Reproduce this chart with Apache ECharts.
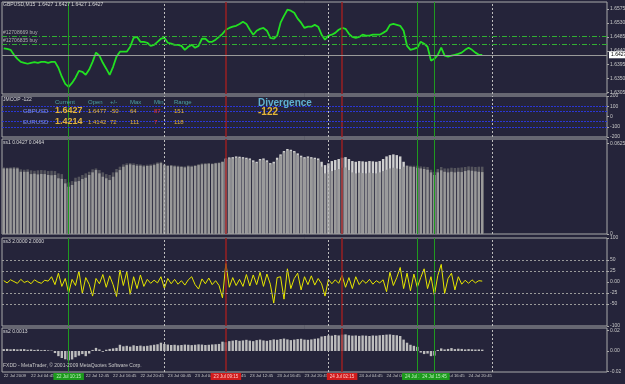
<!DOCTYPE html>
<html>
<head>
<meta charset="utf-8">
<script src="https://cdn.jsdelivr.net/npm/echarts@6/dist/echarts.min.js"></script>
<style>
  html, body { margin: 0; padding: 0; background: #25243a; }
  #chart { width: 625px; height: 384px; }
</style>
</head>
<body>
<div id="chart"></div>
<script>
// GBPUSD M15, one slot = 30 minutes, slot 0 = 22 Jul 00:45
var slotCount = 177;
var tickLabels = ['22 Jul 2009', '22 Jul 04:45', '22 Jul 08:45', '22 Jul 12:45', '22 Jul 16:45', '22 Jul 20:45',
  '23 Jul 00:45', '23 Jul 04:45', '23 Jul 08:45', '23 Jul 12:45', '23 Jul 16:45', '23 Jul 20:45',
  '24 Jul 00:45', '24 Jul 04:45', '24 Jul 08:45', '24 Jul 12:45', '24 Jul 16:45', '24 Jul 20:45'];

var price = [
  1.6448, 1.6446, 1.6443, 1.6427, 1.6414, 1.6404, 1.6401, 1.6398, 1.6401, 1.6403,
  1.6401, 1.6404, 1.6404, 1.6401, 1.6404, 1.6404, 1.6385, 1.6356, 1.6333, 1.6323,
  1.6336, 1.6353, 1.6375, 1.6372, 1.6362, 1.6379, 1.6404, 1.6434, 1.6424, 1.6401,
  1.6382, 1.6362, 1.6388, 1.6421, 1.6437, 1.6437, 1.6437, 1.6453, 1.6482, 1.6485,
  1.6469, 1.6469, 1.6466, 1.6456, 1.6459, 1.6469, 1.6479, 1.6482, 1.6466, 1.6463,
  1.6459, 1.6459, 1.6456, 1.6443, 1.6453, 1.6459, 1.6450, 1.6456, 1.6479, 1.6479,
  1.6469, 1.6469, 1.6476, 1.6485, 1.6495, 1.6508, 1.6514, 1.6518, 1.6521, 1.6527,
  1.6534, 1.6527, 1.6508, 1.6492, 1.6505, 1.6511, 1.6514, 1.6505, 1.6482, 1.6479,
  1.6489, 1.6531, 1.6553, 1.6573, 1.6570, 1.6563, 1.6544, 1.6531, 1.6514, 1.6518,
  1.6518, 1.6524, 1.6518, 1.6492, 1.6476, 1.6489, 1.6492, 1.6498, 1.6508, 1.6514,
  1.6511, 1.6495, 1.6485, 1.6482, 1.6485, 1.6492, 1.6489, 1.6489, 1.6492, 1.6492,
  1.6492, 1.6498, 1.6505, 1.6524, 1.6527, 1.6524, 1.6521, 1.6505, 1.6456, 1.6443,
  1.6446, 1.6450, 1.6469, 1.6463, 1.6453, 1.6408, 1.6414, 1.6427, 1.6450, 1.6424,
  1.6421, 1.6424, 1.6427, 1.6430, 1.6434, 1.6443, 1.6450, 1.6443, 1.6434, 1.6427, 1.6427
];
var orderLevels = [1.6488, 1.6461];
var orderNames = ['#12708669 buy', '#12706835 buy'];
var bid = 1.6427;

var ss1a = [
  .0452, .0452, .0452, .0452, .0452, .0429, .0429, .0429, .0413, .0416,
  .0411, .0414, .0413, .0407, .0405, .0407, .0384, .0380, .0349, .0326,
  .0338, .0361, .0365, .0379, .0388, .0407, .0425, .0441, .0418, .0395,
  .0384, .0372, .0395, .0425, .0441, .0464, .0475, .0480, .0475, .0471,
  .0471, .0466, .0469, .0471, .0475, .0485, .0489, .0475, .0469, .0471,
  .0466, .0464, .0462, .0459, .0466, .0464, .0469, .0475, .0480, .0482,
  .0485, .0482, .0487, .0489, .0498, .0521, .0528, .0530, .0535, .0533,
  .0530, .0526, .0521, .0508, .0498, .0517, .0521, .0508, .0489, .0498,
  .0526, .0549, .0572, .0586, .0581, .0572, .0556, .0540, .0530, .0535,
  .0530, .0526, .0521, .0498, .0475, .0487, .0503, .0510, .0517, .0526,
  .0530, .0517, .0503, .0498, .0503, .0501, .0498, .0503, .0501, .0498,
  .0503, .0517, .0535, .0544, .0549, .0544, .0535, .0498, .0471, .0464,
  .0462, .0457, .0452, .0448, .0443, .0425, .0407, .0425, .0439, .0429,
  .0425, .0429, .0425, .0429, .0427, .0434, .0439, .0436, .0432, .0429, .0427
];
var ss1b = [
  .0459, .0457, .0459, .0462, .0459, .0446, .0443, .0446, .0439, .0436,
  .0439, .0441, .0439, .0434, .0436, .0434, .0418, .0413, .0379, .0356,
  .0365, .0388, .0395, .0407, .0418, .0429, .0446, .0452, .0441, .0425,
  .0413, .0407, .0425, .0448, .0464, .0480, .0487, .0489, .0487, .0482,
  .0480, .0475, .0478, .0480, .0485, .0494, .0498, .0485, .0475, .0475,
  .0473, .0471, .0469, .0466, .0473, .0471, .0475, .0482, .0487, .0489,
  .0489, .0487, .0491, .0494, .0498, .0517, .0521, .0521, .0526, .0524,
  .0521, .0517, .0512, .0498, .0489, .0508, .0512, .0498, .0480, .0487,
  .0512, .0540, .0563, .0576, .0572, .0563, .0544, .0530, .0521, .0526,
  .0521, .0517, .0510, .0464, .0418, .0425, .0434, .0441, .0448, .0457,
  .0459, .0441, .0425, .0418, .0423, .0420, .0418, .0423, .0420, .0418,
  .0425, .0434, .0443, .0452, .0457, .0452, .0448, .0464, .0471, .0471,
  .0471, .0471, .0466, .0464, .0462, .0443, .0429, .0448, .0462, .0452,
  .0452, .0457, .0455, .0457, .0459, .0462, .0466, .0464, .0462, .0464, .0464
];

var ss3 = [
  3, -2, 5, 1, -3, 6, -1, 2, -4, 5, 0, -3, 4, 2,
  12, -6, 20, -10, 8, -25, 6, -8, 25, -26, 10, -5, -32, 8, -4,
  17, -12, 14, -6, -33, 27, -8, 23, -28, 12, -15, 16, -10, 6,
  -3, 4, -2, 12, -14, 8, -4, 6, -5, 3, -7, 5, 12, -6, -16,
  7, -4, 9, -6, 3, -8,
  -36, 42, -12, 10, -8, 6, -10, 17, -9, 16, -6, 22, -10, 18, -5, -48, 10, 12, -39, 30,
  -15, 8, 20, -18, 12, -6, 14, -7, 8, -4, -32, 6, -4, 5, -3, 15, -12, 10, -15, 12, -6,
  4, -3, 6, -5, 3, -2, 5,
  -22, 22, -8, 10, 33, -15, 20, -20, 18, -12, 10, 30, -15, 12, -30, 15, 40, -26, 8, 20, -18, 12, -5,
  4, -3, 5, -2, 3, 2
];
var ss3Levels = [50, 25, -25, -50];

var ss2 = [
  0.0018, 0.0020, 0.0016, 0.0019, 0.0015, 0.0017, 0.0018, 0.0012, 0.0015, 0.0010, 0.0013, 0.0008, 0.0010, 0.0006, 0.0004,
  -0.0020, -0.0050, -0.0068, -0.0080, -0.0090, -0.0082, -0.0060, -0.0045, -0.0030, -0.0050, -0.0025,
  0.0010, 0.0030, 0.0015, -0.0008, 0.0012, 0.0020, 0.0025, 0.0030,
  0.0060, 0.0045, 0.0050, 0.0042, 0.0055, 0.0048, 0.0052, 0.0046, 0.0050, 0.0055, 0.0060, 0.0065,
  0.0080, 0.0068, 0.0062, 0.0058, 0.0060, 0.0055, 0.0058, 0.0062, 0.0060, 0.0057, 0.0060, 0.0064, 0.0062, 0.0058, 0.0060, 0.0063, 0.0065, 0.0068,
  0.0090, 0.0085, 0.0095, 0.0100, 0.0105, 0.0098, 0.0102, 0.0108, 0.0100, 0.0095,
  0.0105, 0.0110, 0.0102, 0.0098, 0.0105, 0.0112, 0.0108, 0.0115, 0.0120, 0.0112,
  0.0105, 0.0110, 0.0115, 0.0118, 0.0110, 0.0108, 0.0112, 0.0118, 0.0122,
  0.0140, 0.0145, 0.0150, 0.0148, 0.0155, 0.0150, 0.0158, 0.0160, 0.0152, 0.0148,
  0.0150, 0.0146, 0.0150, 0.0148, 0.0145, 0.0150, 0.0148, 0.0152, 0.0155, 0.0158,
  0.0160, 0.0155, 0.0152, 0.0145,
  0.0110, 0.0080, 0.0060, 0.0050, 0.0040,
  -0.0015, -0.0030, -0.0025, -0.0050, -0.0045,
  0.0010, 0.0025, 0.0015, 0.0020, 0.0028, 0.0018, 0.0022, 0.0020, 0.0015, 0.0018, 0.0016, 0.0014, 0.0015, 0.0013
];

// vertical objects (slot index)
var greenLines = [19, 121, 126];
var greenNames = ['22 Jul 10:15', '24 Jul 13:15', '24 Jul 15:45'];
var redLines = [65, 99];
var redNames = ['23 Jul 09:15', '24 Jul 02:15'];
var dayLines = [47, 95, 143];

var jmLevels = [100, 50, -50, -100];
var tableHead = ['Current', 'Open', '+/-', 'Max', 'Min', 'Range'];
var tableSymbols = ['GBPUSD', 'EURUSD'];
var tableRows = [
  ['1.6427', '1.6477', '-50', '64', '87', '151'],
  ['1.4214', '1.4142', '72', '111', '7', '118']
];
var divergence = '-122';

var FONT = '"Liberation Sans", "DejaVu Sans", sans-serif';
var AXIS_TXT = '#c8c8c8';

var slots = [];
for (var i = 0; i < slotCount; i++) slots.push(i);

var panels = [
  { top: 2, height: 92 },
  { top: 96, height: 41 },
  { top: 139, height: 95 },
  { top: 238, height: 88 },
  { top: 328, height: 44 }
];

function vertLines(withBoxes) {
  var out = [];
  dayLines.forEach(function (s) {
    out.push({ xAxis: s, lineStyle: { color: '#bdbdbd', width: 1, type: [2, 2] } });
  });
  greenLines.forEach(function (s, k) {
    var d = { xAxis: s, lineStyle: { color: '#1f9a1f', width: 1, type: 'solid' } };
    if (withBoxes) d.label = { show: true, position: 'start', distance: 1, formatter: greenNames[k],
      backgroundColor: '#1c9a1c', color: '#bff0bf', fontSize: 4.5, padding: [1, 3] };
    out.push(d);
  });
  redLines.forEach(function (s, k) {
    var d = { xAxis: s, lineStyle: { color: '#9a1f22', width: 1.5, type: 'solid' } };
    if (withBoxes) d.label = { show: true, position: 'start', distance: 1, formatter: redNames[k],
      backgroundColor: '#d11c1c', color: '#ffc8c8', fontSize: 4.5, padding: [1, 3] };
    out.push(d);
  });
  return out;
}

function yAx(k, min, max, vals, fmt) {
  return {
    type: 'value', gridIndex: k, position: 'right', min: min, max: max,
    axisLine: { show: false }, splitLine: { show: false },
    axisTick: { show: true, length: 2, customValues: vals, lineStyle: { color: '#a9a9a9' } },
    axisLabel: { show: true, customValues: vals, fontSize: 5, color: AXIS_TXT, margin: 3, formatter: fmt }
  };
}

var chart = echarts.init(document.getElementById('chart'), null, { renderer: 'canvas' });

var graphics = [];
function txt(x, y, s, fill, size, bold) {
  graphics.push({ type: 'text', x: x, y: y, z: 100, silent: true,
    style: { text: s, fill: fill, fontSize: size, fontWeight: bold ? 'bold' : 'normal', fontFamily: FONT, verticalAlign: 'middle' } });
}
txt(3, 5, 'GBPUSD,M15  1.6427 1.6427 1.6427 1.6427', '#d8d8d8', 5);
txt(3, 100, 'JMCOP -122', '#d8d8d8', 5);
txt(3, 143, 'ss1 0.0427 0.0464', '#d8d8d8', 5);
txt(3, 242, 'ss3 2.0000 2.0000', '#d8d8d8', 5);
txt(3, 332, 'ss2 0.0013', '#d8d8d8', 5);
txt(3, 366, 'FXDD - MetaTrader, \u00a9 2001-2009 MetaQuotes Software Corp.', '#c8c8c8', 5);

var colX = [55, 88, 110, 130, 154, 174];
tableHead.forEach(function (h, c) { txt(colX[c], 102, h, '#4aa3a3', 6); });
tableSymbols.forEach(function (sym, r) {
  var y = 111 + r * 11;
  txt(23, y, sym, '#7d8ee8', 6);
  tableRows[r].forEach(function (v, c) {
    var col = c === 4 ? '#e8322a' : '#e3b33a';
    txt(colX[c], y, v, col, c === 0 ? 9 : 6, c === 0);
  });
});
txt(258, 103, 'Divergence', '#5fb0cf', 10, true);
txt(258, 112, divergence, '#e3b33a', 10, true);

var ss1Top = ss1a.map(function (a, i) { return Math.max(a, ss1b[i]); });
var ss1Low = ss1a.map(function (a, i) { return Math.min(a, ss1b[i]); });

var option = {
  backgroundColor: '#25243a',
  animation: false,
  textStyle: { fontFamily: FONT },
  grid: panels.map(function (p) {
    return { left: 2, right: 18, top: p.top, height: p.height, show: true,
      borderColor: '#a9a9a9', borderWidth: 1, backgroundColor: 'transparent', outerBoundsMode: 'none' };
  }),
  xAxis: panels.map(function (p, k) {
    return {
      type: 'category', gridIndex: k, data: slots, boundaryGap: true,
      axisLine: { show: false }, axisTick: { show: false }, splitLine: { show: false },
      axisLabel: k === 4 ? {
        show: true, fontSize: 4.3, color: AXIS_TXT, margin: 2, align: 'left',
        interval: function (idx) { return idx % 8 === 0 && idx / 8 < tickLabels.length; },
        formatter: function (v, idx) { return tickLabels[idx / 8] || ''; }
      } : { show: false }
    };
  }),
  yAxis: [
    yAx(0, 1.6300, 1.6598, [1.6305, 1.6350, 1.6395, 1.6440, 1.6485, 1.6530, 1.6575], function (v) { return v.toFixed(4); }),
    yAx(1, -200, 200, [-200, -100, 0, 100, 200], function (v) { return String(v); }),
    yAx(2, 0, 0.0655, [0, 0.0625], function (v) { return v === 0 ? '0' : v.toFixed(4); }),
    yAx(3, -100, 100, [-100, -50, -25, 0, 25, 50, 100], function (v) { return v === 0 ? '0.00' : String(v); }),
    yAx(4, -0.0203, 0.0222, [-0.02, 0, 0.02], function (v) { return v.toFixed(2); })
  ],
  graphic: graphics,
  series: [
    {
      name: 'GBPUSD', type: 'line', xAxisIndex: 0, yAxisIndex: 0, data: price,
      symbol: 'none', lineStyle: { color: '#22e022', width: 1.8 }, z: 3,
      markLine: {
        silent: true, symbol: ['none', 'none'], label: { show: false }, precision: 6,
        data: vertLines(false).concat(orderLevels.map(function (lv, k) {
          return { yAxis: lv, lineStyle: { color: '#32b032', width: 1, type: [5, 2, 1, 2] },
            label: { show: true, position: 'insideStartTop', formatter: orderNames[k], color: '#b0b0b0', fontSize: 5, distance: 1 } };
        })).concat([{ yAxis: bid, lineStyle: { color: '#9a9a9a', width: 1, type: 'solid' },
          label: { show: true, position: 'end', formatter: bid.toFixed(4), backgroundColor: '#ffffff', color: '#000000', fontSize: 5, padding: [1, 2], distance: 2 } }])
      }
    },
    {
      name: 'JMCOP', type: 'line', xAxisIndex: 1, yAxisIndex: 1, data: [],
      symbol: 'none',
      markLine: {
        silent: true, symbol: ['none', 'none'], label: { show: false }, precision: 6,
        data: vertLines(false).concat(jmLevels.map(function (lv) {
          return { yAxis: lv, lineStyle: { color: '#2a36d4', width: 1, type: [2, 1] } };
        }))
      }
    },
    {
      name: 'ss1 top', type: 'bar', xAxisIndex: 2, yAxisIndex: 2, data: ss1Top,
      barCategoryGap: '28%', barGap: '-100%',
      itemStyle: { color: function (p) { return ss1a[p.dataIndex] > ss1b[p.dataIndex] ? '#cfcfcf' : '#55555d'; } }
    },
    {
      name: 'ss1 low', type: 'bar', xAxisIndex: 2, yAxisIndex: 2, data: ss1Low,
      barCategoryGap: '28%', barGap: '-100%', itemStyle: { color: '#9a9a9a' },
      markLine: { silent: true, symbol: ['none', 'none'], label: { show: false }, precision: 6, data: vertLines(false) }
    },
    {
      name: 'ss3', type: 'line', xAxisIndex: 3, yAxisIndex: 3, data: ss3,
      symbol: 'none', lineStyle: { color: '#e6e600', width: 1 }, z: 3,
      markLine: {
        silent: true, symbol: ['none', 'none'], label: { show: false }, precision: 6,
        data: vertLines(false).concat(ss3Levels.map(function (lv) {
          return { yAxis: lv, lineStyle: { color: '#9a9a9a', width: 1, type: [2, 2] } };
        }))
      }
    },
    {
      name: 'ss2', type: 'bar', xAxisIndex: 4, yAxisIndex: 4, data: ss2,
      barCategoryGap: '30%', itemStyle: { color: '#bdbdbd' },
      markLine: { silent: true, symbol: ['none', 'none'], label: { show: false }, precision: 6, data: vertLines(true) }
    }
  ]
};
chart.setOption(option);
</script>
</body>
</html>
